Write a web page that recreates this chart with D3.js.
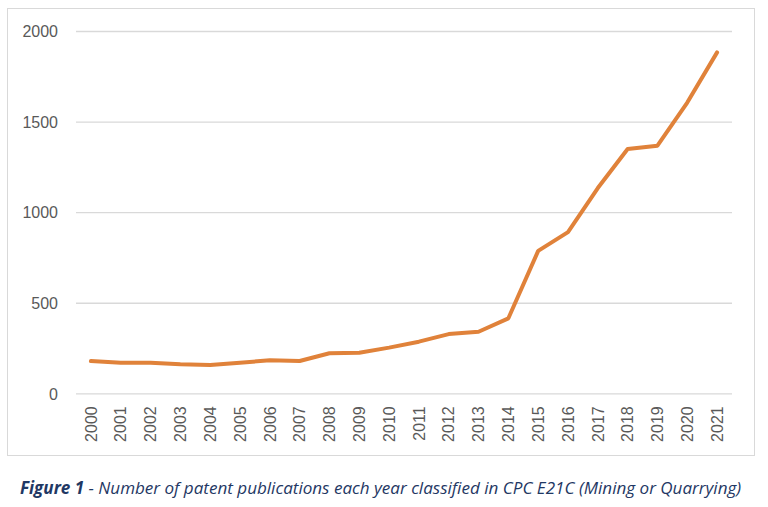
<!DOCTYPE html>
<html lang="en">
  <head>
    <meta charset="utf-8">
    <title>Patent publications CPC E21C</title>
    <script src="https://cdnjs.cloudflare.com/ajax/libs/d3/7.8.0/d3.min.js"></script>
    <style>
      body { margin: 0; background: #fff; }
      .axis-text { font-family: "Liberation Sans", Arial, sans-serif; font-size: 16px; fill: #595959; }
      .caption { font-family: "Open Sans", sans-serif; font-style: italic; fill: #1f3864; }
    </style>
  </head>
  <body>
    <div id="chartContainer"></div>

    <script type="text/javascript">
      // Data
      var years = ["2000", "2001", "2002", "2003", "2004", "2005", "2006", "2007", "2008", "2009", "2010",
                   "2011", "2012", "2013", "2014", "2015", "2016", "2017", "2018", "2019", "2020", "2021"];
      var publications = [178, 169, 169, 160, 156, 169, 182, 178, 221, 224, 252,
                          285, 327, 340, 414, 786, 890, 1133, 1349, 1367, 1605, 1882];
      var yTicks = [0, 500, 1000, 1500, 2000];

      var W = 768, H = 507;
      var plot = { left: 76, right: 732, top: 31, bottom: 393.3 };

      var svg = d3.select("#chartContainer")
                  .append("svg")
                  .attr("width", W)
                  .attr("height", H);

      // chart frame
      svg.append("rect")
         .attr("x", 7.5).attr("y", 8.5)
         .attr("width", 747).attr("height", 447)
         .attr("fill", "none")
         .attr("stroke", "#d9d9d9")
         .attr("stroke-width", 1);

      var x = d3.scaleBand()
                .domain(years)
                .range([plot.left, plot.right]);

      var y = d3.scaleLinear()
                .domain([0, 2000])
                .range([plot.bottom, plot.top]);

      // gridlines + y labels
      var yAxis = svg.append("g")
         .attr("transform", "translate(" + plot.left + ",0)")
         .call(d3.axisLeft(y).tickValues(yTicks).tickFormat(d3.format("d"))
                 .tickSize(-(plot.right - plot.left)).tickPadding(18));
      yAxis.select(".domain").remove();
      yAxis.selectAll(".tick line").attr("stroke", "#d9d9d9").attr("stroke-width", 1.3);
      yAxis.selectAll(".tick text").attr("class", "axis-text").attr("dy", "0.36em");

      // x labels, rotated
      var xAxis = svg.append("g")
         .attr("transform", "translate(0," + plot.bottom + ")")
         .call(d3.axisBottom(x).tickSize(0).tickPadding(0));
      xAxis.select(".domain").remove();
      xAxis.selectAll(".tick text")
           .attr("class", "axis-text")
           .attr("transform", "rotate(-90)")
           .attr("x", -13)
           .attr("y", 0)
           .attr("dy", "0.36em")
           .style("text-anchor", "end");

      // line
      var line = d3.line()
                   .x(function(d, i) { return x(years[i]) + x.bandwidth() / 2; })
                   .y(function(d) { return y(d); });

      svg.append("path")
         .datum(publications)
         .attr("d", line)
         .attr("fill", "none")
         .attr("stroke", "#e0823a")
         .attr("stroke-width", 4)
         .attr("stroke-linejoin", "round")
         .attr("stroke-linecap", "round");

      // caption
      var cap = svg.append("text")
         .attr("class", "caption")
         .attr("x", 20)
         .attr("y", 494)
         .style("font-size", "16px");
      cap.append("tspan").attr("font-weight", "bold").text("Figure 1");
      cap.append("tspan").text(" - Number of patent publications each year classified in CPC E21C (Mining or Quarrying)");
      var capW = cap.node().getComputedTextLength();
      cap.style("font-size", (16 * 722 / capW) + "px");
    </script>
  </body>
</html>
